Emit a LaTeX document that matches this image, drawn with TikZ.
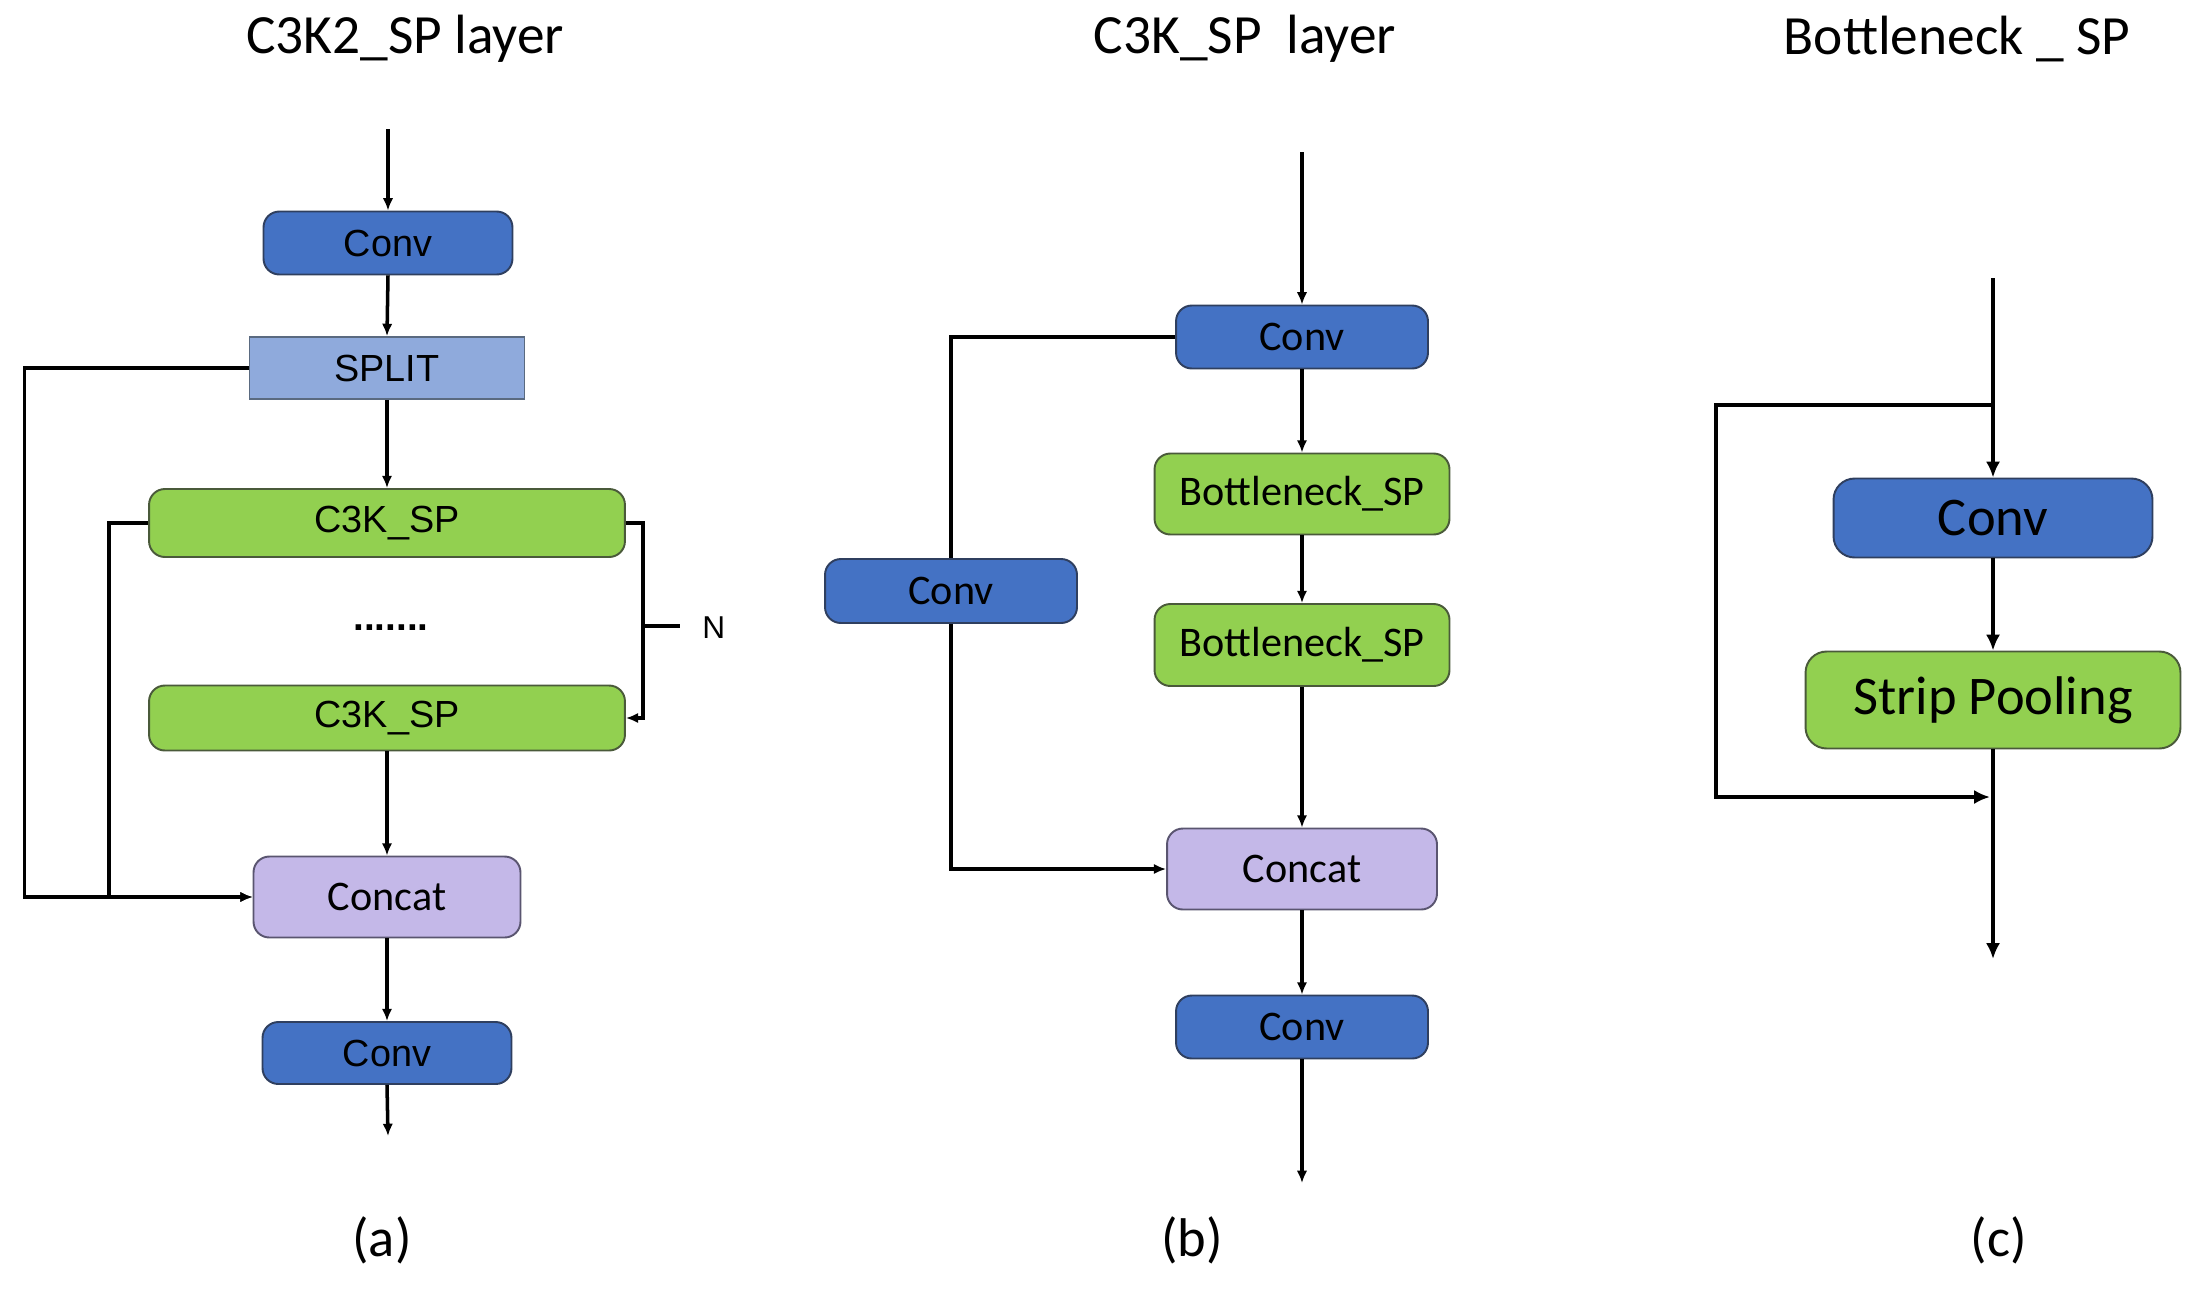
\documentclass[tikz,border=0pt]{standalone}
\usepackage{fontspec}
\setmainfont{Carlito}
\newfontfamily\arialf{Liberation Sans}
\usetikzlibrary{arrows.meta}
\definecolor{convblue}{HTML}{4472C4}
\definecolor{convedge}{HTML}{2F3F5F}
\definecolor{greenbox}{HTML}{92D050}
\definecolor{greenedge}{HTML}{4A5A3A}
\definecolor{splitblue}{HTML}{8FAADC}
\definecolor{splitedge}{HTML}{5A6A80}
\definecolor{purplebox}{HTML}{C4B8E8}
\definecolor{purpleedge}{HTML}{5A5570}
\tikzset{
  box/.style={draw, line width=1.1pt, rounded corners=9pt, inner sep=0pt, align=center, text=black},
  convbox/.style={box, fill=convblue, draw=convedge},
  greenbx/.style={box, fill=greenbox, draw=greenedge},
  splitbx/.style={box, rounded corners=0pt, fill=splitblue, draw=splitedge},
  catbox/.style={box, fill=purplebox, draw=purpleedge},
  conn/.style={line width=2pt, draw=black},
  arr/.style={conn, -{Latex[length=7pt,width=6pt]}},
  connc/.style={line width=2.6pt, draw=black},
  arrc/.style={connc, -{Latex[length=9pt,width=8pt]}},
  ttl/.style={font=\fontsize{31.5}{34}\selectfont, inner sep=0pt},
  lbl/.style={font=\fontsize{31}{34}\selectfont, inner sep=0pt},
  fa/.style={font=\arialf\fontsize{21.5}{24}\selectfont},
  fb/.style={font=\fontsize{24}{28}\selectfont},
  fc/.style={font=\fontsize{31}{34}\selectfont}
}
\begin{document}
\begin{tikzpicture}[x=0.02cm,y=-0.02cm]
\useasboundingbox[fill=white] (0,0) rectangle (2204,1292);

% ---------- titles ----------
\node[ttl] (ta) at (405,39) {C3K2\_SP layer};
\node[ttl] (tb) at (1245,39) {C3K\_SP\ \ layer};
\node[ttl] (tc) at (1957,39) {Bottleneck \_ SP};
\node[lbl] (la) at (382,1240) {(a)};
\node[lbl] (lb) at (1192,1240) {(b)};
\node[lbl] (lc) at (1999,1240) {(c)};

% ---------- panel (a) ----------
\coordinate (inA) at (388,129);
\node[convbox, fa, minimum width=4.98cm, minimum height=1.26cm] (convA1) at (388,243) {Conv};
\node[splitbx, fa, minimum width=5.5cm, minimum height=1.24cm] (split) at (387,368) {SPLIT};
\node[greenbx, fa, minimum width=9.52cm, minimum height=1.36cm] (c3k1) at (387,523) {C3K\_SP};
\node[font=\arialf\bfseries\fontsize{22}{24}\selectfont, inner sep=0pt] (dots) at (391,628) {.......};
\node[greenbx, fa, minimum width=9.52cm, minimum height=1.30cm] (c3k2) at (387,718) {C3K\_SP};
\node[catbox, fb, minimum width=5.34cm, minimum height=1.62cm] (concatA) at (387,897) {Concat};
\node[convbox, fa, minimum width=4.98cm, minimum height=1.24cm] (convA2) at (387,1053) {Conv};
\coordinate (outA) at (388,1136);
\node[font=\arialf\fontsize{18}{20}\selectfont, inner sep=0pt, anchor=west] (N) at (702,628) {N};
\coordinate (bt) at (642,626);
\coordinate (btend) at (680,626);

\draw[arr] (inA) -- (convA1.north);
\draw[arr] (convA1.south) -- (split.north);
\draw[arr] (split.south) -- (c3k1.north);
\draw[arr] (c3k2.south) -- (concatA.north);
\draw[arr] (concatA.south) -- (convA2.north);
\draw[arr] (convA2.south) -- (outA);
\draw[arr] (split.west) -- ++(-224,0) |- (concatA.west);
\draw[arr] (c3k1.west) -- ++(-39,0) |- (concatA.west);
\draw[arr] (c3k1.east) -- ++(17,0) |- (c3k2.east);
\draw[conn] (bt) -- (btend);

% ---------- panel (b) ----------
\coordinate (inB) at (1302,152);
\node[convbox, fb, minimum width=5.04cm, minimum height=1.26cm] (convB1) at (1302,337) {Conv};
\node[greenbx, fb, minimum width=5.9cm, minimum height=1.62cm] (bn1) at (1302,494) {Bottleneck\_SP};
\node[greenbx, fb, minimum width=5.9cm, minimum height=1.64cm] (bn2) at (1302,645) {Bottleneck\_SP};
\node[catbox, fb, minimum width=5.4cm, minimum height=1.62cm] (concatB) at (1302,869) {Concat};
\node[convbox, fb, minimum width=5.04cm, minimum height=1.26cm] (convB2) at (1302,1027) {Conv};
\node[convbox, fb, minimum width=5.04cm, minimum height=1.28cm] (convS) at (951,591) {Conv};
\coordinate (outB) at (1302,1183);

\draw[arr] (inB) -- (convB1.north);
\draw[arr] (convB1.south) -- (bn1.north);
\draw[arr] (bn1.south) -- (bn2.north);
\draw[arr] (bn2.south) -- (concatB.north);
\draw[arr] (concatB.south) -- (convB2.north);
\draw[arr] (convB2.south) -- (outB);
\draw[conn] (convB1.west) -| (convS.north);
\draw[arr] (convS.south) |- (concatB.west);

% ---------- panel (c) ----------
\coordinate (inC) at (1993,278);
\coordinate (brC) at (1993,405);
\node[convbox, fc, minimum width=6.38cm, minimum height=1.58cm, rounded corners=12pt] (convC) at (1993,518) {Conv};
\node[greenbx, fc, minimum width=7.5cm, minimum height=1.94cm, rounded corners=12pt] (spC) at (1993,700) {Strip Pooling};
\coordinate (joinC) at (1990,797);
\coordinate (outC) at (1993,959);

\draw[arrc] (inC) -- (convC.north);
\draw[arrc] (convC.south) -- (spC.north);
\draw[arrc] (spC.south) -- (outC);
\draw[arrc] (brC) -- ++(-277,0) |- (joinC);
\end{tikzpicture}
\end{document}
